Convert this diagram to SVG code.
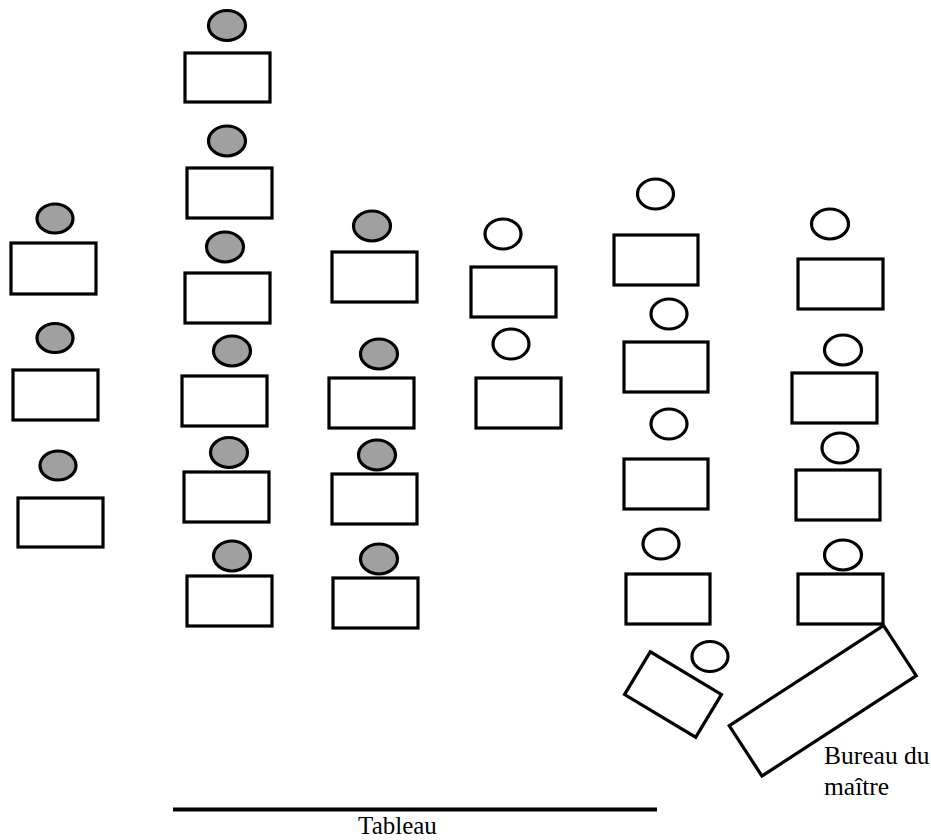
<svg xmlns="http://www.w3.org/2000/svg" width="931" height="840" viewBox="0 0 931 840">
<style>
.desk{fill:#fff;stroke:#000;stroke-width:3.2}
.s{fill:#a0a0a0;stroke:#000;stroke-width:3.2}
.e{fill:#fff;stroke:#000;stroke-width:3.2}
.t{font-family:"Liberation Serif","Times New Roman",serif;font-size:25.5px;fill:#000}
</style>
<rect width="931" height="840" fill="#fff"/>
<g id="col1">
<g id="p1a"><ellipse class="s" cx="55" cy="218.5" rx="18" ry="14.5"/><rect class="desk" x="11" y="243" width="85" height="51"/></g>
<g id="p1b"><ellipse class="s" cx="55" cy="338" rx="18" ry="14.5"/><rect class="desk" x="13" y="370" width="85" height="50"/></g>
<g id="p1c"><ellipse class="s" cx="58" cy="465.5" rx="18" ry="14.5"/><rect class="desk" x="18" y="498" width="85" height="49"/></g>
</g>
<g id="col2">
<g id="p2a"><ellipse class="s" cx="227" cy="25.5" rx="18.5" ry="15"/><rect class="desk" x="185" y="53" width="85" height="49"/></g>
<g id="p2b"><ellipse class="s" cx="227" cy="141" rx="18.5" ry="15"/><rect class="desk" x="187" y="168" width="85" height="50"/></g>
<g id="p2c"><ellipse class="s" cx="225" cy="247" rx="18.5" ry="15"/><rect class="desk" x="185" y="273" width="85" height="50"/></g>
<g id="p2d"><ellipse class="s" cx="232" cy="351" rx="18.5" ry="15"/><rect class="desk" x="182" y="376" width="85" height="50"/></g>
<g id="p2e"><ellipse class="s" cx="229" cy="452.5" rx="18.5" ry="15"/><rect class="desk" x="184" y="472" width="85" height="50"/></g>
<g id="p2f"><ellipse class="s" cx="232" cy="556" rx="18.5" ry="15"/><rect class="desk" x="187" y="576" width="85" height="50"/></g>
</g>
<g id="col3">
<g id="p3a"><ellipse class="s" cx="372" cy="226" rx="18.5" ry="15"/><rect class="desk" x="332" y="252" width="85" height="50"/></g>
<g id="p3b"><ellipse class="s" cx="379" cy="354" rx="18.5" ry="15"/><rect class="desk" x="329" y="378" width="85" height="50"/></g>
<g id="p3c"><ellipse class="s" cx="377" cy="455" rx="18.5" ry="15"/><rect class="desk" x="332" y="474" width="85" height="50"/></g>
<g id="p3d"><ellipse class="s" cx="379" cy="559" rx="18.5" ry="15"/><rect class="desk" x="333" y="578" width="85" height="50"/></g>
</g>
<g id="col4">
<g id="p4a"><ellipse class="e" cx="503" cy="234" rx="18" ry="15"/><rect class="desk" x="471" y="267" width="85" height="50"/></g>
<g id="p4b"><ellipse class="e" cx="511" cy="344" rx="18" ry="15"/><rect class="desk" x="476" y="378" width="85" height="50"/></g>
</g>
<g id="col5">
<g id="p5a"><ellipse class="e" cx="655.5" cy="194" rx="18" ry="15"/><rect class="desk" x="614" y="235" width="84" height="50"/></g>
<g id="p5b"><ellipse class="e" cx="669" cy="314" rx="18" ry="15"/><rect class="desk" x="624" y="342" width="84" height="50"/></g>
<g id="p5c"><ellipse class="e" cx="669" cy="424" rx="18" ry="15"/><rect class="desk" x="624" y="459" width="84" height="50"/></g>
<g id="p5d"><ellipse class="e" cx="661" cy="544" rx="18" ry="15"/><rect class="desk" x="626" y="574" width="84" height="50"/></g>
<g id="p5e"><ellipse class="e" cx="710" cy="656.5" rx="18" ry="15"/><rect class="desk" x="-41.5" y="-25" width="83" height="50" transform="translate(673 694.5) rotate(31)"/></g>
</g>
<g id="col6">
<g id="p6a"><ellipse class="e" cx="830" cy="224" rx="18.5" ry="15"/><rect class="desk" x="798" y="259" width="85" height="50"/></g>
<g id="p6b"><ellipse class="e" cx="843" cy="350" rx="18.5" ry="15"/><rect class="desk" x="792" y="373" width="85" height="50"/></g>
<g id="p6c"><ellipse class="e" cx="840" cy="448" rx="18" ry="15"/><rect class="desk" x="796" y="470" width="84" height="50"/></g>
<g id="p6d"><ellipse class="e" cx="843" cy="555" rx="18.5" ry="15"/><rect class="desk" x="798" y="574" width="85" height="50"/></g>
</g>
<g id="bureau">
<rect class="desk" x="-92" y="-30" width="184" height="60" transform="translate(822.75 700.75) rotate(-33)"/>
<text class="t" x="824" y="764">Bureau du</text>
<text class="t" x="824" y="795">maître</text>
</g>
<g id="tableau">
<line x1="173" y1="809.5" x2="657" y2="809.5" stroke="#000" stroke-width="4"/>
<text class="t" x="397.5" y="834" text-anchor="middle" style="font-size:25px">Tableau</text>
</g>
</svg>
